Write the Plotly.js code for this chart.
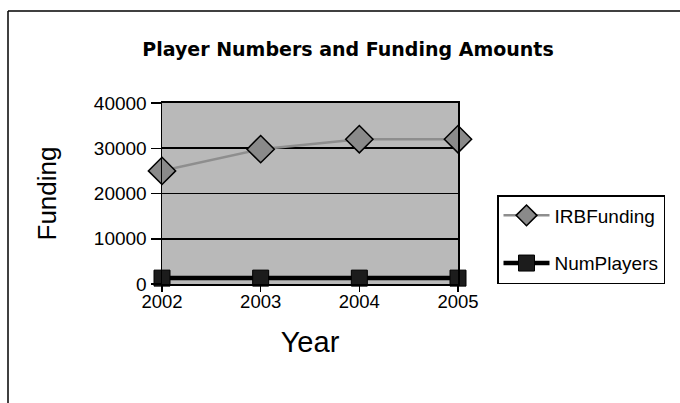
<!DOCTYPE html>
<html>
<head>
<meta charset="utf-8">
<script src="https://cdn.plot.ly/plotly-3.0.1.min.js"></script>
<style>
html,body{margin:0;padding:0;background:#fff;}
#chart{width:680px;height:403px;}
</style>
</head>
<body>
<div id="chart"></div>
<script>
// Data
var years = [2002, 2003, 2004, 2005];
var irbFunding = [25000, 29800, 32000, 32000];
var numPlayers = [1300, 1300, 1300, 1300];
var yTickVals = [0, 10000, 20000, 30000, 40000];
var yTickText = ['0', '10000', '20000', '30000', '40000'];
var xTickText = ['2002', '2003', '2004', '2005'];

var L = 162, R = 458, T = 103, B = 284, W = 680, H = 403;
var pw = R - L, ph = B - T;
function px(x){ return (x - L) / pw; }
function py(y){ return (B - y) / ph; }

var sans = 'Liberation Sans, Arial, sans-serif';

var traces = [
  {
    x: years, y: irbFunding, name: 'IRBFunding', type: 'scatter', mode: 'lines+markers',
    legendgroup: 'a',
    line: {color: '#8e8e8e', width: 2.5},
    marker: {symbol: 'diamond', size: 21, color: '#8a8a8a', line: {color: '#000', width: 1.5}},
    cliponaxis: false
  },
  {
    x: years, y: numPlayers, name: 'NumPlayers', type: 'scatter', mode: 'lines+markers',
    legendgroup: 'b',
    line: {color: '#000', width: 4.5},
    marker: {symbol: 'square', size: 16, color: '#1c1c1c', line: {color: '#000', width: 1}},
    cliponaxis: false
  }
];

var layout = {
  width: W, height: H,
  margin: {l: L, r: W - R, t: T, b: H - B, pad: 0},
  paper_bgcolor: '#ffffff',
  plot_bgcolor: '#b9b9b9',
  showlegend: true,
  title: {
    text: '<b>Player Numbers and Funding Amounts</b>',
    font: {family: 'DejaVu Sans, Verdana, sans-serif', size: 19, color: '#000'},
    x: 348 / W, xanchor: 'center', xref: 'container',
    y: 1 - 49 / H, yanchor: 'middle', yref: 'container'
  },
  xaxis: {
    type: 'linear', range: [2002, 2005],
    tickmode: 'array', tickvals: years, ticktext: xTickText,
    ticks: 'outside', ticklen: 6, tickwidth: 1.5, tickcolor: '#000',
    ticklabelstandoff: -6,
    showgrid: false, zeroline: false,
    showline: true, linecolor: '#000', linewidth: 2, mirror: true,
    tickfont: {family: sans, size: 18.5, color: '#000'},
    title: {text: 'Year', font: {family: sans, size: 29, color: '#000'}, standoff: 20},
    fixedrange: true
  },
  yaxis: {
    range: [0, 40000],
    tickmode: 'array', tickvals: yTickVals, ticktext: yTickText,
    ticks: 'outside', ticklen: 10, tickwidth: 1.5, tickcolor: '#000',
    showgrid: true, gridcolor: '#000', gridwidth: 1.8,
    zeroline: false,
    showline: true, linecolor: '#000', linewidth: 1.5, mirror: true,
    tickfont: {family: sans, size: 19, color: '#000'},
    title: {text: 'Funding', font: {family: sans, size: 26, color: '#000'}, standoff: 30},
    fixedrange: true
  },
  legend: {
    x: px(497), y: py(195), xanchor: 'left', yanchor: 'top',
    xref: 'paper', yref: 'paper',
    bgcolor: '#ffffff', bordercolor: '#000', borderwidth: 1.5,
    font: {family: sans, size: 19, color: '#000'},
    traceorder: 'grouped', tracegroupgap: 20,
    itemwidth: 46
  },
  shapes: [
    {type: 'line', xref: 'paper', yref: 'paper', x0: px(8), x1: px(8), y0: py(11), y1: py(420), line: {color: '#000', width: 1.5}},
    {type: 'line', xref: 'paper', yref: 'paper', x0: px(8), x1: px(700), y0: py(11), y1: py(11), line: {color: '#000', width: 1.5}}
  ]
};

Plotly.newPlot('chart', traces, layout, {displayModeBar: false, staticPlot: true});
</script>
</body>
</html>
